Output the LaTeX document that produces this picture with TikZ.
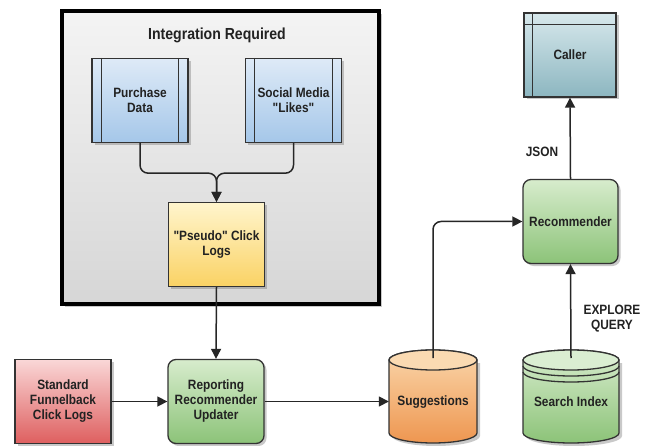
\documentclass[tikz,border=0pt]{standalone}
\usepackage{fontspec}
\newfontfamily\lsans{Liberation Sans}[FakeStretch=0.88]
\usetikzlibrary{arrows.meta,shadows}
\definecolor{txt}{HTML}{222222}
\tikzset{
  shd/.style={drop shadow={shadow xshift=2.5pt,shadow yshift=-2.5pt,opacity=0.35,fill=black!60}},
  boxbase/.style={draw=black!80, line width=1.3pt, align=center, text=txt,
    font=\lsans\bfseries\fontsize{13.5}{15}\selectfont, minimum width=96pt, minimum height=84pt, inner sep=2pt, shd},
  bluebox/.style={boxbase, top color={rgb,255:red,222;green,234;blue,247}, bottom color={rgb,255:red,165;green,199;blue,233}},
  yellowbox/.style={boxbase, top color={rgb,255:red,255;green,245;blue,205}, bottom color={rgb,255:red,250;green,210;blue,100}},
  greenbox/.style={boxbase, rounded corners=8pt, top color={rgb,255:red,215;green,236;blue,205}, bottom color={rgb,255:red,140;green,195;blue,120}},
  redbox/.style={boxbase, top color={rgb,255:red,250;green,215;blue,215}, bottom color={rgb,255:red,222;green,95;blue,95}},
  tealbox/.style={boxbase, top color={rgb,255:red,215;green,232;blue,236}, bottom color={rgb,255:red,140;green,182;blue,192}},
  container/.style={draw=black, line width=3.5pt, top color={rgb,255:red,244;green,244;blue,244}, bottom color={rgb,255:red,214;green,214;blue,214},
    drop shadow={shadow xshift=3pt,shadow yshift=-3pt,opacity=0.35,fill=black!60}},
  lbl/.style={text=txt, font=\lsans\bfseries\fontsize{13.5}{15}\selectfont, align=center},
  conn/.style={draw=black!85, line width=1.5pt, -{Triangle[length=10pt,width=10pt]}},
  cylline/.style={draw=black!80, line width=1.3pt}
}
\begin{document}
\begin{tikzpicture}[x=1pt,y=-1pt]
\useasboundingbox (0,0) rectangle (647,446);
\fill[white] (0,0) rectangle (647,446);

% container
\node[container, minimum width=317pt, minimum height=293pt] (cont) at (220.5,157.5) {};
\node[lbl, font=\lsans\bfseries\fontsize{16}{18}\selectfont] (title) at (217,35) {Integration Required};

% blue process boxes
\node[bluebox] (purch) at (140,100.5) {Purchase\\Data};
\node[bluebox] (social) at (293.5,100.5) {Social Media\\"Likes"};
\foreach \n in {purch,social}{
  \draw[draw=black!80, line width=1.2pt] ([xshift=10pt]\n.north west) -- ([xshift=10pt]\n.south west);
  \draw[draw=black!80, line width=1.2pt] ([xshift=-10pt]\n.north east) -- ([xshift=-10pt]\n.south east);
}

% pseudo click logs
\node[yellowbox] (pseudo) at (216.5,244.5) {"Pseudo" Click\\Logs};

% bottom row
\node[redbox] (std) at (63,401.5) {Standard\\Funnelback\\Click Logs};
\node[greenbox] (report) at (216,401.5) {Reporting\\Recommender\\Updater};

% right column
\node[greenbox, minimum width=95pt] (rec) at (570.5,221.5) {Recommender};
\node[tealbox, minimum width=92pt] (caller) at (570,55) {Caller};
\draw[draw=black!80, line width=1.2pt] ([yshift=-12pt]caller.north west) -- ([yshift=-12pt]caller.north east);
\draw[draw=black!80, line width=1.2pt] ([xshift=9pt]caller.north west) -- ([xshift=9pt]caller.south west);

% Suggestions cylinder
\fill[black!60, opacity=0.35] (392,363) -- (392,436) arc[start angle=180,end angle=360,x radius=44pt,y radius=10pt] -- (480,363) -- cycle;
\shade[top color={rgb,255:red,250;green,214;blue,170}, bottom color={rgb,255:red,238;green,150;blue,80}, cylline]
  (389,360) -- (389,433) arc[start angle=180,end angle=360,x radius=44pt,y radius=10pt] -- (477,360)
  arc[start angle=0,end angle=180,x radius=44pt,y radius=10pt] -- cycle;
\draw[cylline, fill={rgb,255:red,250;green,218;blue,178}] (433,360) ellipse [x radius=44pt, y radius=10pt];
\node[lbl, minimum width=88pt, minimum height=93pt] (sug) at (433,396.5) {};
\node[lbl] (sugtxt) at (433,402) {Suggestions};
\coordinate (sugtop) at (433,358);

% Search Index cylinder
\fill[black!60, opacity=0.35] (526,363) -- (526,436) arc[start angle=180,end angle=360,x radius=48pt,y radius=10pt] -- (622,363) -- cycle;
\shade[top color={rgb,255:red,215;green,236;blue,205}, bottom color={rgb,255:red,140;green,195;blue,120}, cylline]
  (523,360) -- (523,433) arc[start angle=180,end angle=360,x radius=48pt,y radius=10pt] -- (619,360)
  arc[start angle=0,end angle=180,x radius=48pt,y radius=10pt] -- cycle;
\draw[cylline, fill={rgb,255:red,218;green,238;blue,210}] (571,360) ellipse [x radius=48pt, y radius=10pt];
\draw[cylline] (523,366) arc[start angle=180,end angle=360,x radius=48pt,y radius=10pt];
\draw[cylline] (523,372) arc[start angle=180,end angle=360,x radius=48pt,y radius=10pt];
\node[lbl] (sidx) at (571,402) {Search Index};
\coordinate (sidxtop) at (571,358);

% connectors
\draw[conn, rounded corners=8pt] (purch.south) -- ++(0,30) -| (pseudo.north);
\draw[conn, rounded corners=8pt] (social.south) -- ++(0,30) -| (pseudo.north);
\draw[conn] (pseudo.south) -- (report.north);
\draw[conn] (std.east) -- (report.west);
\draw[conn] (report.east) -- (report.east -| sug.west);
\draw[conn, rounded corners=8pt] (sugtop) |- (rec.west);
\draw[conn] (sidxtop) -- (rec.south);
\draw[conn] (rec.north) -- (caller.south);

% labels
\node[lbl] (json) at (542,152) {JSON};
\node[lbl] (explore) at (612,319) {EXPLORE\\QUERY};
\end{tikzpicture}
\end{document}
